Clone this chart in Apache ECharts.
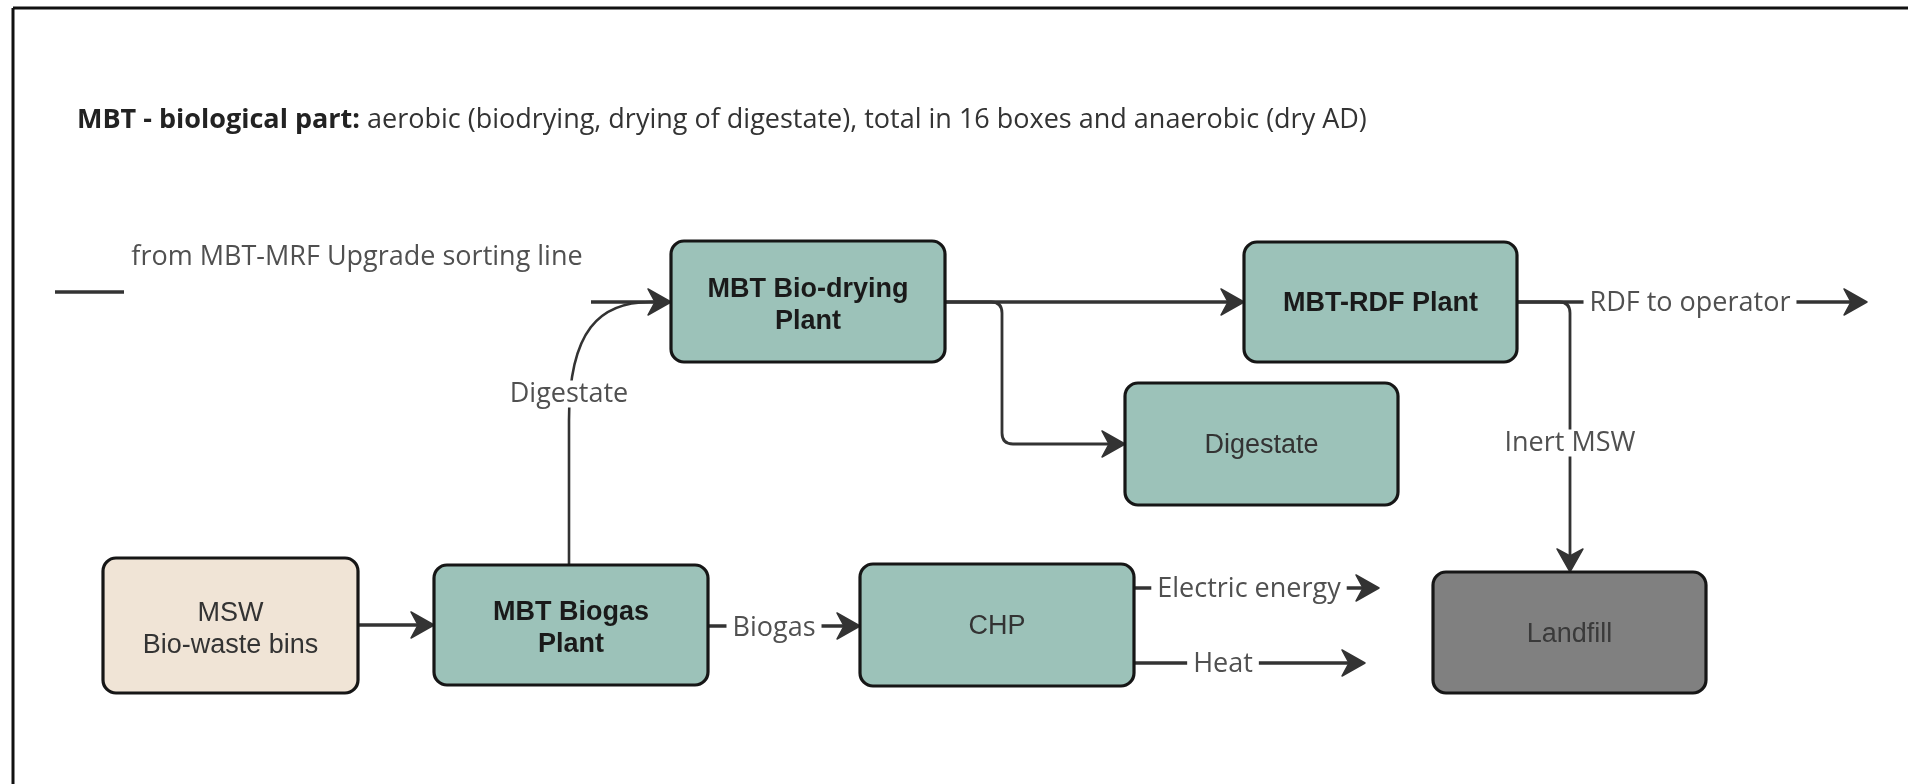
<!DOCTYPE html>
<html lang="en">
<head>
<meta charset="UTF-8">
<title>MBT - biological part</title>
<script src="https://cdn.jsdelivr.net/npm/echarts@6.0.0/dist/echarts.min.js"></script>
<style>
  html, body { margin: 0; padding: 0; background: #fff; }
  #chart { width: 1908px; height: 784px; }
</style>
</head>
<body>
<div id="chart"></div>
<script>
// units of the sheet: 1 unit = 1 px of the original drawing
const boxNames  = ['MSW\nBio-waste bins', 'MBT Biogas\nPlant', 'CHP', 'MBT Bio-drying\nPlant', 'MBT-RDF Plant', 'Digestate', 'Landfill'];
const boxKinds  = ['input', 'plant', 'unit', 'plant', 'plant', 'unit', 'sink'];
const boxLeft   = [103, 434, 860, 671, 1244, 1125, 1433];
const boxTop    = [558, 565, 564, 241, 242, 383, 572];
const boxRight  = [358, 708, 1134, 945, 1517, 1398, 1706];
const boxBottom = [693, 685, 686, 362, 362, 505, 693];

// flows: polyline points (the curved one: M p0 L p1 C p2 p3 p4 L p5)
const flowPoints = [
  [[55, 292], [124, 292]],
  [[591, 302], [671, 302]],
  [[569, 565], [569, 420], [569, 330], [600, 302], [650, 302], [662, 302]],
  [[358, 625], [434, 625]],
  [[708, 626], [860, 626]],
  [[1134, 588], [1379, 588]],
  [[1134, 663], [1365, 663]],
  [[945, 302], [1244, 302]],
  [[945, 302], [1002, 302], [1002, 444], [1125, 444]],
  [[1517, 302], [1867, 302]],
  [[1517, 302], [1570, 302], [1570, 572]]
];
const flowKinds  = ['main', 'main', 'curve', 'main', 'main', 'main', 'main', 'main', 'thin', 'main', 'thin'];
const flowArrow  = [false, true, false, true, true, true, true, true, true, true, true];
const flowLabels = ['from MBT-MRF Upgrade sorting line', '', 'Digestate', '', 'Biogas', 'Electric energy', 'Heat', '', '', 'RDF to operator', 'Inert MSW'];
const flowLabelAt = [[357, 257], null, [569, 394], null, [774, 628], [1249, 589], [1223, 664], null, null, [1690, 303], [1570, 443]];

const boxStyle = {
  input: { fill: '#f0e4d6', text: '#333', weight: 'normal' },
  plant: { fill: '#9cc2b9', text: '#1a1a1a', weight: 'bold' },
  unit:  { fill: '#9cc2b9', text: '#333', weight: 'normal' },
  sink:  { fill: '#808080', text: '#3a3a3a', weight: 'normal' }
};
const flowWidth = { main: 3.6, thin: 2.8, curve: 2.6 };

function roundedPath(pts, r) {
  let d = 'M' + pts[0][0] + ' ' + pts[0][1];
  for (let k = 1; k < pts.length - 1; k++) {
    const p = pts[k - 1], c = pts[k], n = pts[k + 1];
    const l1 = Math.hypot(c[0] - p[0], c[1] - p[1]);
    const l2 = Math.hypot(n[0] - c[0], n[1] - c[1]);
    const rr = Math.min(r, l1 / 2, l2 / 2);
    const ax = c[0] - (c[0] - p[0]) / l1 * rr, ay = c[1] - (c[1] - p[1]) / l1 * rr;
    const bx = c[0] + (n[0] - c[0]) / l2 * rr, by = c[1] + (n[1] - c[1]) / l2 * rr;
    d += ' L' + ax + ' ' + ay + ' Q' + c[0] + ' ' + c[1] + ' ' + bx + ' ' + by;
  }
  const e = pts[pts.length - 1];
  return d + ' L' + e[0] + ' ' + e[1];
}

function curvePath(p) {
  return 'M' + p[0].join(' ') + ' L' + p[1].join(' ') +
    ' C' + p[2].join(' ') + ' ' + p[3].join(' ') + ' ' + p[4].join(' ') +
    ' L' + p[5].join(' ');
}

function renderBox(params, api) {
  const i = params.dataIndex;
  const a = api.coord([api.value(0), api.value(1)]);
  const b = api.coord([api.value(2), api.value(3)]);
  const st = boxStyle[boxKinds[i]];
  const twoLines = boxNames[i].indexOf('\n') >= 0;
  return {
    type: 'group',
    children: [
      {
        type: 'rect',
        shape: { x: a[0], y: a[1], width: b[0] - a[0], height: b[1] - a[1], r: 13 },
        style: { fill: st.fill, stroke: '#161616', lineWidth: 3.2 }
      },
      {
        type: 'text',
        style: {
          text: boxNames[i], x: (a[0] + b[0]) / 2, y: (a[1] + b[1]) / 2 + (twoLines ? 4 : 2),
          align: 'center', verticalAlign: 'middle',
          fontFamily: '"Liberation Sans", Arial, sans-serif', fontSize: 27,
          fontWeight: st.weight, lineHeight: 32, fill: st.text
        }
      }
    ]
  };
}

function renderFlow(params, api) {
  const i = params.dataIndex;
  const pts = flowPoints[i].map(p => api.coord(p));
  const kind = flowKinds[i];
  const children = [];
  const line = pts.map(p => p.slice());
  const L = 23, W = 13, N = 7;
  let tip, u;
  if (flowArrow[i]) {
    tip = pts[pts.length - 1];
    const prev = pts[pts.length - 2];
    const len = Math.hypot(tip[0] - prev[0], tip[1] - prev[1]);
    u = [(tip[0] - prev[0]) / len, (tip[1] - prev[1]) / len];
    line[line.length - 1] = [tip[0] - u[0] * L * 0.6, tip[1] - u[1] * L * 0.6];
  }
  children.push({
    type: 'path',
    shape: { pathData: kind === 'curve' ? curvePath(line) : roundedPath(line, 11) },
    style: { fill: null, stroke: '#333', lineWidth: flowWidth[kind], lineJoin: 'round' }
  });
  if (flowArrow[i]) {
    const n = [-u[1], u[0]];
    const pt = (s, w) => [tip[0] - u[0] * s + n[0] * w, tip[1] - u[1] * s + n[1] * w];
    children.push({
      type: 'polygon',
      shape: { points: [tip, pt(L, W), pt(L - N, 0), pt(L, -W)] },
      style: { fill: '#333', stroke: '#333', lineWidth: 1.5, lineJoin: 'round' }
    });
  }
  if (flowLabels[i]) {
    const c = api.coord(flowLabelAt[i]);
    children.push({
      type: 'text',
      z2: 10,
      style: {
        text: flowLabels[i], x: c[0], y: c[1], align: 'center', verticalAlign: 'middle',
        fontFamily: '"Open Sans", sans-serif', fontSize: 27, fill: '#505050',
        backgroundColor: '#fff', padding: [0, 6]
      }
    });
  }
  return { type: 'group', children };
}

const chart = echarts.init(document.getElementById('chart'));
chart.setOption({
  animation: false,
  backgroundColor: '#fff',
  title: {
    left: 77, top: 107, padding: 0,
    text: '{b|MBT - biological part:} aerobic (biodrying, drying of digestate), total in 16 boxes and anaerobic (dry AD)',
    textStyle: {
      fontFamily: '"Open Sans", sans-serif', fontSize: 27, fontWeight: 'normal', color: '#333',
      rich: { b: { fontFamily: '"Open Sans", sans-serif', fontSize: 27, fontWeight: 'bold', color: '#222' } }
    }
  },
  // sheet frame: only top and left edges show in the original
  graphic: [
    { type: 'line', shape: { x1: 13, y1: 8, x2: 1908, y2: 8 }, style: { stroke: '#111', lineWidth: 3 } },
    { type: 'line', shape: { x1: 13, y1: 8, x2: 13, y2: 784 }, style: { stroke: '#111', lineWidth: 3 } }
  ],
  grid: { left: 13, top: 8, right: 0, bottom: 0 },
  xAxis: { type: 'value', min: 13, max: 1908, show: false },
  yAxis: { type: 'value', min: 8, max: 784, inverse: true, show: false },
  series: [
    {
      type: 'custom',
      renderItem: renderFlow,
      encode: { x: 0, y: 1 },
      data: flowPoints.map(p => p[0])
    },
    {
      type: 'custom',
      renderItem: renderBox,
      encode: { x: [0, 2], y: [1, 3] },
      data: boxLeft.map((x, i) => [x, boxTop[i], boxRight[i], boxBottom[i]])
    }
  ]
});
</script>
</body>
</html>
